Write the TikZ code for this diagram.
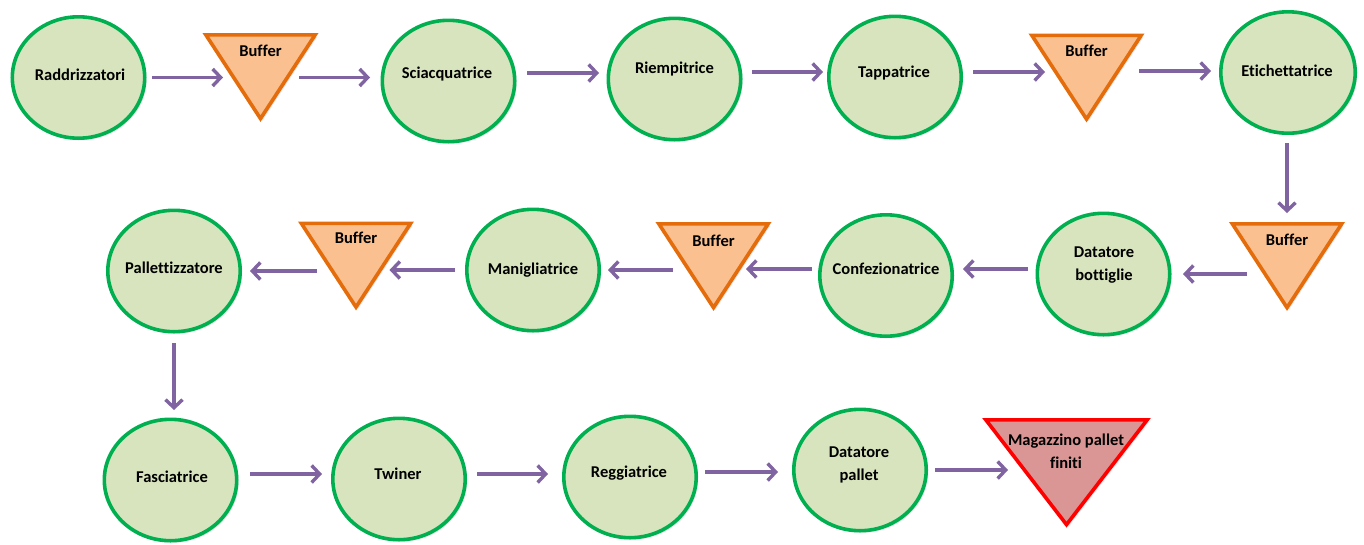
\documentclass[tikz,border=0pt]{standalone}
\usepackage{fontspec}
\setmainfont{Carlito}[Ligatures=NoCommon]
\usetikzlibrary{arrows.meta,shapes.geometric,shadows}
\definecolor{stationfill}{HTML}{D7E4BD}
\definecolor{stationedge}{HTML}{00B050}
\definecolor{bufferfill}{HTML}{FAC090}
\definecolor{bufferedge}{HTML}{E46C0A}
\definecolor{storefill}{HTML}{D99694}
\definecolor{storeedge}{HTML}{FF0000}
\definecolor{flowcolor}{HTML}{8064A2}
% downward triangle inscribed in the box node #1, drawn with style #2
\newcommand\downtri[2]{%
  \draw[#2] ([xshift=2.8pt,yshift=-1.8pt]#1.north west)
    -- ([xshift=-2.8pt,yshift=-1.8pt]#1.north east)
    -- ([yshift=3.4pt]#1.south) -- cycle;}
\begin{document}
\begin{tikzpicture}[x=1pt,y=-1pt,
  softshadow/.style={drop shadow={opacity=0.2,shadow xshift=2pt,shadow yshift=-2pt}},
  station/.style={ellipse, draw=stationedge, fill=stationfill, line width=3.6pt,
    minimum width=132.4pt, minimum height=121.4pt, inner sep=0pt, outer sep=1.8pt, softshadow},
  tribox/.style={rectangle, minimum width=115pt, minimum height=89pt, inner sep=0pt, outer sep=0pt},
  storebox/.style={tribox, minimum width=167pt, minimum height=110pt},
  buffershape/.style={draw=bufferedge, fill=bufferfill, line width=3.6pt, line join=miter, softshadow},
  storeshape/.style={draw=storeedge, fill=storefill, line width=3.6pt, line join=miter, softshadow},
  lbl/.style={font=\bfseries\fontsize{16.5}{23}\selectfont, align=center, inner sep=0pt,
    text height=10.6pt, text depth=0pt},
  lbltwo/.style={font=\bfseries\fontsize{16.5}{23}\selectfont, align=center, inner sep=0pt},
  flow/.style={draw=flowcolor, line width=3.4pt, -{Straight Barb[length=8pt,width=17pt]}},
]
\useasboundingbox (0,0) rectangle (1364,544);

% ---- row 1 ----
\node[station] (rad) at (78.5,77.5) {};
\node[lbl] (rad-t) at (80,75) {Raddrizzatori};

\node[tribox] (buf1) at (260.5,77.5) {};
\downtri{buf1}{buffershape}
\node[lbl] (buf1-t) at ([yshift=-18pt]buf1.north) {Buffer};

\node[station] (sci) at (448.5,81) {};
\node[lbl] (sci-t) at (447,73) {Sciacquatrice};

\node[station] (rie) at (674.5,79) {};
\node[lbl] (rie-t) at (674.5,68) {Riempitrice};

\node[station] (tap) at (895,77) {};
\node[lbl] (tap-t) at (894,72) {Tappatrice};

\node[tribox] (buf2) at (1086.5,78) {};
\downtri{buf2}{buffershape}
\node[lbl] (buf2-t) at ([yshift=-18pt]buf2.north) {Buffer};

\node[station, minimum width=134.4pt] (eti) at (1288,72.5) {};
\node[lbl] (eti-t) at (1287,71) {Etichettatrice};

% ---- row 2 ----
\node[tribox] (buf3) at (1287,266.5) {};
\downtri{buf3}{buffershape}
\node[lbl] (buf3-t) at ([yshift=-18pt]buf3.north) {Buffer};

\node[station] (dbo) at (1103.5,274) {};
\node[lbltwo] (dbo-t) at (1104,265.5) {Datatore\\bottiglie};

\node[station] (con) at (886,275.5) {};
\node[lbl] (con-t) at (886,269) {Confezionatrice};

\node[tribox] (buf4) at (713.5,266.5) {};
\downtri{buf4}{buffershape}
\node[lbl] (buf4-t) at ([yshift=-19pt]buf4.north) {Buffer};

\node[station] (man) at (533,270) {};
\node[lbl] (man-t) at (533,269) {Manigliatrice};

\node[tribox] (buf5) at (356,266) {};
\downtri{buf5}{buffershape}
\node[lbl] (buf5-t) at ([yshift=-17pt]buf5.north) {Buffer};

\node[station] (pal) at (174,271) {};
\node[lbl] (pal-t) at (174,268) {Pallettizzatore};

% ---- row 3 ----
\node[station] (fas) at (170.5,480) {};
\node[lbl] (fas-t) at (172,477) {Fasciatrice};

\node[station] (twi) at (399,479) {};
\node[lbl] (twi-t) at (398,474) {Twiner};

\node[station] (reg) at (630,477) {};
\node[lbl] (reg-t) at (629,472) {Reggiatrice};

\node[station] (dpa) at (860,470) {};
\node[lbltwo] (dpa-t) at (859,464.5) {Datatore\\pallet};

\node[storebox] (mag) at (1066.5,473) {};
\downtri{mag}{storeshape}
\node[lbltwo] (mag-t) at (1066,451) {Magazzino pallet\\finiti};

% ---- flow connectors ----
\draw[flow] ([xshift=5.5pt]rad.east) -- ([xshift=20pt]buf1.west |- rad);
\draw[flow] ([xshift=-19pt]buf1.east) -- ([xshift=-10.5pt]sci.west |- buf1);
\draw[flow] ([xshift=10.5pt]sci.east |- sci-t) -- ([xshift=-7.5pt]rie.west |- sci-t);
\draw[flow] ([xshift=9.5pt]rie.east |- tap-t) -- ([xshift=-4pt]tap.west |- tap-t);
\draw[flow] ([xshift=10pt]tap.east |- tap-t) -- ([xshift=16pt]buf2.west |- tap-t);
\draw[flow] ([xshift=-5pt]buf2.east |- eti-t) -- ([xshift=-8pt]eti.west |- eti-t);
\draw[flow] ([yshift=-8pt]eti.south -| buf3) -- ([yshift=9pt]buf3.north);

\draw[flow] ([xshift=17pt]buf3.west |- dbo) -- ([xshift=11.5pt]dbo.east);
\draw[flow] ([xshift=-7.5pt]dbo.west |- con-t) -- ([xshift=9pt]con.east |- con-t);
\draw[flow] ([xshift=-6pt]con.west |- con-t) -- ([xshift=-25pt]buf4.east |- con-t);
\draw[flow] ([xshift=17pt]buf4.west |- man) -- ([xshift=7pt]man.east);
\draw[flow] ([xshift=-10pt]man.west) -- ([xshift=-24pt]buf5.east |- man);
\draw[flow] ([xshift=18pt]buf5.west |- pal) -- ([xshift=8pt]pal.east);
\draw[flow] ([yshift=-9.5pt]pal.south) -- ([yshift=7.5pt]fas.north -| pal.south);

\draw[flow] ([xshift=11.5pt]fas.east |- twi-t) -- ([xshift=-9pt]twi.west |- twi-t);
\draw[flow] ([xshift=10pt]twi.east |- twi-t) -- ([xshift=-14pt]reg.west |- twi-t);
\draw[flow] ([xshift=7pt]reg.east |- reg-t) -- ([xshift=-14pt]dpa.west |- reg-t);
\draw[flow] ([xshift=7pt]dpa.east) -- ([xshift=25pt]mag.west |- dpa);
\end{tikzpicture}
\end{document}
